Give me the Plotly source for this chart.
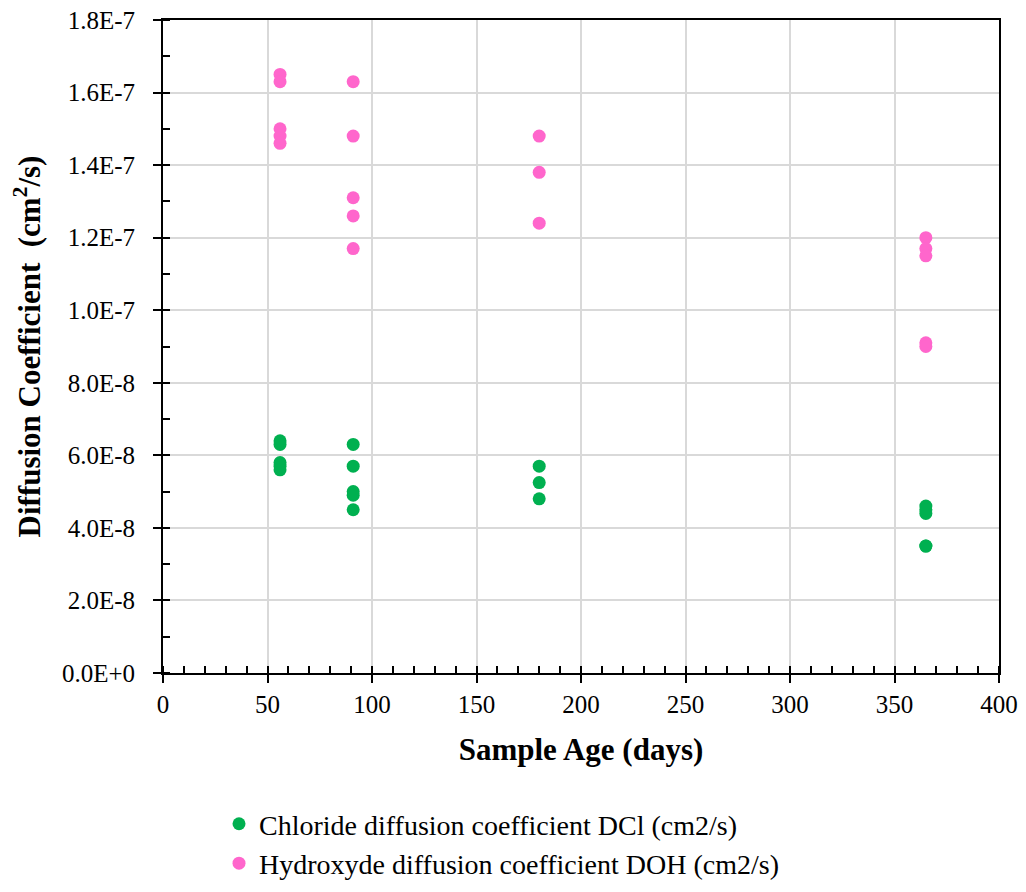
import plotly.graph_objects as go

# Data
age_cl = [56, 56, 56, 56, 56, 91, 91, 91, 91, 91, 180, 180, 180, 365, 365, 365, 365, 365]
dcl = [6.4e-8, 6.3e-8, 5.8e-8, 5.7e-8, 5.6e-8,
       6.3e-8, 5.7e-8, 5.0e-8, 4.9e-8, 4.5e-8,
       5.7e-8, 5.25e-8, 4.8e-8,
       4.6e-8, 4.5e-8, 4.4e-8, 3.5e-8, 3.5e-8]
age_oh = [56, 56, 56, 56, 56, 91, 91, 91, 91, 91, 180, 180, 180, 365, 365, 365, 365, 365]
doh = [1.65e-7, 1.63e-7, 1.50e-7, 1.48e-7, 1.46e-7,
       1.63e-7, 1.48e-7, 1.31e-7, 1.26e-7, 1.17e-7,
       1.48e-7, 1.38e-7, 1.24e-7,
       1.20e-7, 1.17e-7, 1.15e-7, 9.1e-8, 9.0e-8]

y_tickvals = [0, 2e-8, 4e-8, 6e-8, 8e-8, 1e-7, 1.2e-7, 1.4e-7, 1.6e-7, 1.8e-7]
y_ticktext = ["0.0E+0", "2.0E-8", "4.0E-8", "6.0E-8", "8.0E-8",
              "1.0E-7", "1.2E-7", "1.4E-7", "1.6E-7", "1.8E-7"]
x_tickvals = [0, 50, 100, 150, 200, 250, 300, 350, 400]

FONT = "Liberation Serif"
GREEN = "#00B050"
PINK = "#FF66CC"

fig = go.Figure()
fig.add_trace(go.Scatter(x=age_cl, y=dcl, mode="markers",
                         name="Chloride diffusion coefficient DCl (cm2/s)",
                         marker=dict(color=GREEN, size=13)))
fig.add_trace(go.Scatter(x=age_oh, y=doh, mode="markers",
                         name="Hydroxyde diffusion coefficient DOH (cm2/s)",
                         marker=dict(color=PINK, size=13)))
# empty helper trace so the overlay axes (inner halves of cross ticks) render
fig.add_trace(go.Scatter(x=[], y=[], xaxis="x2", yaxis="y2", showlegend=False, hoverinfo="skip"))

fig.update_layout(
    width=1018, height=900,
    paper_bgcolor="white", plot_bgcolor="white",
    margin=dict(l=155, r=27, t=12, b=235),
    font=dict(family=FONT, color="black", size=25),
    showlegend=True,
    legend=dict(x=0.067, y=-0.193, xanchor="left", yanchor="top",
                orientation="v", font=dict(family=FONT, size=28, color="black"),
                itemwidth=30, tracegroupgap=0, bgcolor="rgba(0,0,0,0)"),
    xaxis=dict(range=[0, 400], tickvals=x_tickvals, automargin=False, ticklabeloverflow="allow",
               ticks="outside", ticklen=8, tickwidth=2, tickcolor="black",
               minor=dict(dtick=10, ticks="inside", ticklen=7, tickwidth=2, tickcolor="black", showgrid=False),
               showline=True, linecolor="black", linewidth=2, mirror=True,
               showgrid=True, gridcolor="#D9D9D9", gridwidth=2, zeroline=False,
               tickfont=dict(family=FONT, size=25, color="black"),
               title=dict(text="<b>Sample Age (days)</b>", font=dict(family=FONT, size=31, color="black"), standoff=21)),
    yaxis=dict(range=[0, 1.8e-7], tickvals=y_tickvals, ticktext=y_ticktext, automargin=False,
               ticklabeloverflow="allow", ticklabelstandoff=13,
               ticks="outside", ticklen=8, tickwidth=2, tickcolor="black",
               minor=dict(dtick=1e-8, ticks="inside", ticklen=7, tickwidth=2, tickcolor="black", showgrid=False),
               showline=True, linecolor="black", linewidth=2, mirror=True,
               showgrid=True, gridcolor="#D9D9D9", gridwidth=2, zeroline=False,
               tickfont=dict(family=FONT, size=25, color="black"),
               title=dict(text="<b>Diffusion Coefficient  (cm<sup>2</sup>/s)</b>", font=dict(family=FONT, size=31, color="black"), standoff=12)),
    xaxis2=dict(range=[0, 400], overlaying="x", anchor="y", side="bottom", automargin=False,
                tickvals=x_tickvals, ticks="inside", ticklen=7, tickwidth=2, tickcolor="black",
                showticklabels=False, showgrid=False, showline=False, zeroline=False),
    yaxis2=dict(range=[0, 1.8e-7], overlaying="y", anchor="x", side="left", automargin=False,
                tickvals=y_tickvals, ticks="inside", ticklen=7, tickwidth=2, tickcolor="black",
                showticklabels=False, showgrid=False, showline=False, zeroline=False),
)

fig.write_html("out.html")
